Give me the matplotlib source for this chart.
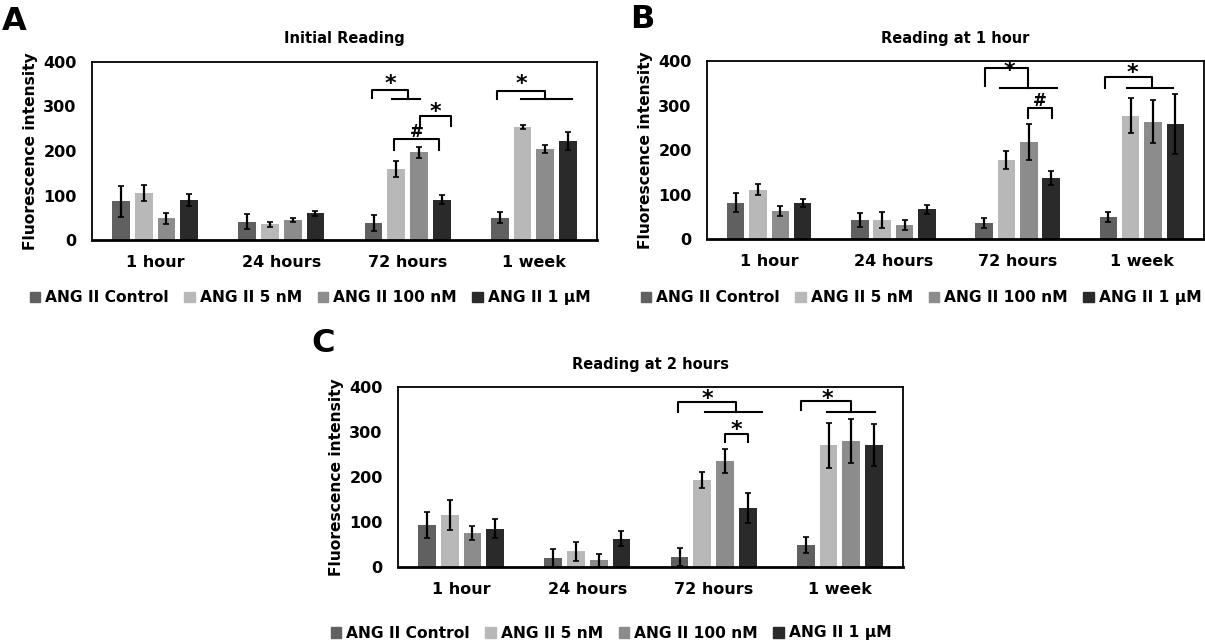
import numpy as np
import matplotlib.pyplot as plt
from matplotlib.patches import Patch

plt.rcParams['font.family'] = ['DejaVu Sans']
plt.rcParams['font.weight'] = 'bold'
plt.rcParams['axes.labelweight'] = 'bold'

categories = ['1 hour', '24 hours', '72 hours', '1 week']
series = ['ANG II Control', 'ANG II 5 nM', 'ANG II 100 nM', 'ANG II 1 \u03bcM']
colors = ['#606060', '#b8b8b8', '#8c8c8c', '#2a2a2a']

# values per series (rows) and category (cols)
initial_vals = [[87, 41, 39, 50],
                [106, 35, 159, 254],
                [49, 45, 197, 205],
                [90, 60, 91, 222]]
initial_err = [[35, 17, 18, 12],
               [18, 6, 18, 5],
               [12, 5, 12, 9],
               [13, 6, 10, 20]]

hour1_vals = [[82, 42, 36, 49],
              [111, 42, 178, 277],
              [63, 31, 218, 264],
              [82, 67, 137, 258]]
hour1_err = [[22, 16, 12, 11],
             [13, 18, 20, 39],
             [12, 11, 40, 49],
             [9, 10, 16, 68]]

hour2_vals = [[93, 19, 23, 49],
              [116, 35, 193, 271],
              [76, 15, 236, 280],
              [85, 63, 131, 271]]
hour2_err = [[29, 20, 20, 17],
             [34, 21, 18, 50],
             [15, 15, 27, 49],
             [21, 17, 33, 47]]

# significance brackets
# group: cat, left, mid, low_start, low_end, y_top, y_leg, y_low, star_x, star_y
group_A = [(2, -0.28, 0.0, -0.12, 0.10, 337, 319, 316, -0.14, 350),
           (3, -0.29, 0.09, -0.10, 0.30, 335, 317, 317, -0.10, 350)]
# pair: cat, left, right, y_top, y_leg, symbol, symbol_y
pair_A = [(2, 0.10, 0.34, 279, 256, '*', 288),
          (2, -0.11, 0.25, 227, 202, '#', 243)]
group_B = [(2, -0.265, 0.08, -0.14, 0.32, 384, 344, 339, -0.07, 378),
           (3, -0.30, 0.08, -0.12, 0.25, 363, 339, 339, -0.08, 372)]
pair_B = [(2, 0.08, 0.28, 295, 273, '#', 310)]
group_C = [(2, -0.285, 0.18, -0.07, 0.38, 367, 345, 345, -0.05, 373),
           (3, -0.31, 0.09, -0.10, 0.28, 370, 349, 345, -0.10, 373)]
pair_C = [(2, 0.09, 0.27, 295, 278, '*', 304)]

W, H = 1205, 644
fig = plt.figure(figsize=(W / 100, H / 100), dpi=100)

offsets = np.array([-0.27, -0.09, 0.09, 0.27])
bw = 0.14


def panel(box, title, letter, letter_xy, vals, errs, groups, pairs, leg_xy):
    l, r, t, b = box
    ax = fig.add_axes([l / W, 1 - b / H, (r - l) / W, (b - t) / H])
    x = np.arange(len(categories))
    for i in range(4):
        ax.bar(x + offsets[i], vals[i], bw, color=colors[i], zorder=2)
        ax.errorbar(x + offsets[i], vals[i], yerr=errs[i], fmt='none',
                    ecolor='black', elinewidth=1.6, capsize=2, capthick=1.2, zorder=3)
    ax.set_xlim(-0.5, 3.5)
    ax.set_ylim(0, 400)
    ax.set_yticks([0, 100, 200, 300, 400])
    ax.set_xticks(x)
    ax.set_xticklabels(categories)
    ax.tick_params(length=0, labelsize=11.5, pad=11)
    for s in ax.spines.values():
        s.set_linewidth(1.3)
    ax.spines['bottom'].set_linewidth(2)
    ax.set_ylabel('Fluorescence intensity', fontsize=11.2, labelpad=4)
    fig.text(((l + r) / 2) / W, 1 - (t - 23) / H, title, ha='center', va='center',
             fontsize=10.5, fontweight='bold')
    fig.text(letter_xy[0] / W, 1 - letter_xy[1] / H, letter, ha='left', va='center',
             fontsize=23, fontweight='heavy')
    for (c, xl, xm, xs, xe, yt, yl, ylow, sx, sy) in groups:
        ax.plot([c + xl, c + xl, c + xm, c + xm], [yl, yt, yt, ylow], color='black', lw=1.5)
        ax.plot([c + xs, c + xe], [ylow, ylow], color='black', lw=1.5)
        ax.text(c + sx, sy, '*', ha='center', va='center', fontsize=16, fontweight='bold')
    for (c, xl, xr, yt, yl, sym, sy) in pairs:
        ax.plot([c + xl, c + xl, c + xr, c + xr], [yl, yt, yt, yl], color='black', lw=1.5)
        ax.text(c + (xl + xr) / 2, sy, sym, ha='center', va='center',
                fontsize=16 if sym == '*' else 12, fontweight='bold')
    handles = [Patch(color=colors[i], label=series[i]) for i in range(4)]
    fig.legend(handles=handles, loc='center', ncol=4, frameon=False,
               bbox_to_anchor=(leg_xy[0] / W, 1 - leg_xy[1] / H),
               fontsize=11.2, handlelength=0.7, handleheight=0.7,
               handletextpad=0.3, columnspacing=1.0)
    return ax


panel((92, 597, 62, 240), 'Initial Reading', 'A', (2, 22), initial_vals, initial_err,
      group_A, pair_A, (310, 298))
panel((707, 1204, 61, 239), 'Reading at 1 hour', 'B', (630, 20), hour1_vals, hour1_err,
      group_B, pair_B, (921, 298))
panel((398, 903, 387, 567), 'Reading at 2 hours', 'C', (311, 343), hour2_vals, hour2_err,
      group_C, pair_C, (611, 633))

fig.savefig('out.png', dpi=100)
